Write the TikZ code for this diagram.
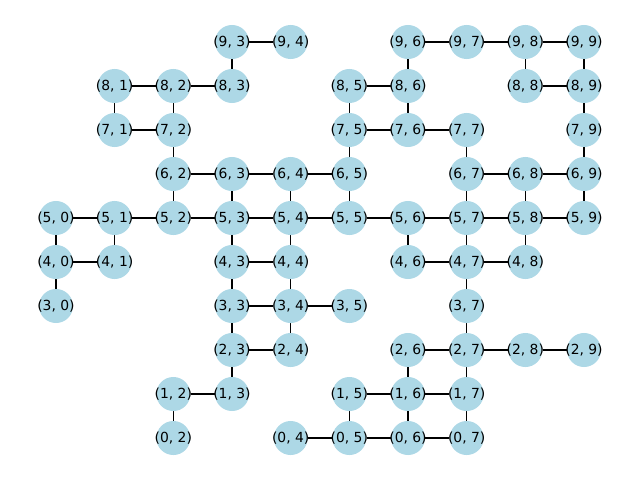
\documentclass[tikz,border=0pt]{standalone}
\usepackage{fontspec}
\setmainfont{DejaVu Sans}
\usetikzlibrary{backgrounds}
\definecolor{lightblue}{RGB}{173,216,230}
\tikzset{
    vertex/.style={circle, fill=lightblue, minimum size=24.5pt, inner sep=0pt,
        font=\fontsize{10}{12}\selectfont},
    link/.style={line width=1pt, black}
}

\begin{document}
\begin{tikzpicture}[x=42.24pt, y=31.68pt]
    % Canvas
    \useasboundingbox (-0.9545,-0.9545) rectangle (9.9545,9.9545);

    % Vertices (row, column)
    \foreach \i/\j in {9/3,9/4,9/6,9/7,9/8,9/9,
        8/1,8/2,8/3,8/5,8/6,8/8,8/9,
        7/1,7/2,7/5,7/6,7/7,7/9,
        6/2,6/3,6/4,6/5,6/7,6/8,6/9,
        5/0,5/1,5/2,5/3,5/4,5/5,5/6,5/7,5/8,5/9,
        4/0,4/1,4/3,4/4,4/6,4/7,4/8,
        3/0,3/3,3/4,3/5,3/7,
        2/3,2/4,2/6,2/7,2/8,2/9,
        1/2,1/3,1/5,1/6,1/7,
        0/2,0/4,0/5,0/6,0/7}
        \node[vertex] (n\i\j) at (\j,\i) {\makebox[0pt]{(\i, \j)}};

    % Edges
    \begin{scope}[on background layer]
    \foreach \a/\b in {93/94,96/97,97/98,98/99,
        93/83,96/86,98/88,99/89,
        81/82,82/83,85/86,88/89,
        81/71,82/72,85/75,86/76,89/79,
        71/72,75/76,76/77,
        72/62,75/65,77/67,79/69,
        62/63,63/64,64/65,67/68,68/69,
        62/52,63/53,64/54,65/55,67/57,68/58,69/59,
        50/51,51/52,52/53,53/54,54/55,55/56,56/57,57/58,58/59,
        50/40,51/41,53/43,54/44,56/46,57/47,58/48,
        40/41,43/44,46/47,47/48,
        40/30,43/33,44/34,47/37,
        33/34,34/35,
        33/23,34/24,37/27,
        23/24,26/27,27/28,28/29,
        23/13,26/16,27/17,
        12/13,15/16,16/17,
        12/02,15/05,16/06,17/07,
        04/05,05/06,06/07}
        \draw[link] (n\a) -- (n\b);
    \end{scope}
\end{tikzpicture}
\end{document}
